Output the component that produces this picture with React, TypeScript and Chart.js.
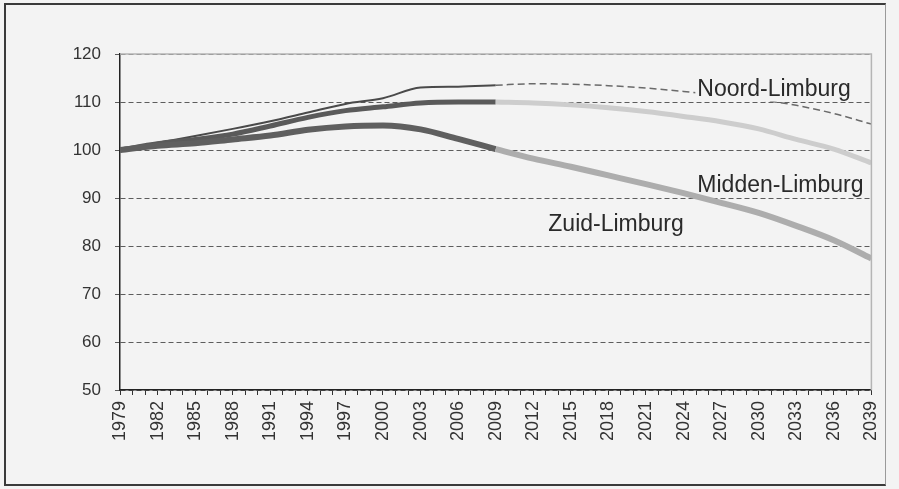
import React, { useEffect, useRef } from "react";
import { Chart, registerables } from "chart.js";

Chart.register(...registerables);

const yearsHist = [1979, 1982, 1985, 1988, 1991, 1994, 1997, 2000, 2003, 2006, 2009];
const yearsProg = [2009, 2012, 2015, 2018, 2021, 2024, 2027, 2030, 2033, 2036, 2039];

const noordHist = [100, 101.5, 102.9, 104.4, 106.0, 107.8, 109.6, 110.8, 113.0, 113.2, 113.5];
const middenHist = [100, 101.3, 102.2, 103.3, 105.0, 106.8, 108.2, 109.0, 109.8, 110.0, 110.0];
const zuidHist = [100, 100.9, 101.4, 102.2, 103.0, 104.2, 104.9, 105.1, 104.3, 102.3, 100.2];

const noordProg = [113.5, 113.8, 113.7, 113.4, 112.9, 112.2, 111.4, 110.5, 109.3, 107.6, 105.4];
const middenProg = [110.0, 109.8, 109.4, 108.8, 108.0, 107.0, 105.9, 104.4, 102.2, 100.2, 97.3];
const zuidProg = [100.2, 98.2, 96.5, 94.7, 92.9, 91.0, 89.0, 86.9, 84.2, 81.2, 77.4];

const labelNames = ["Noord-Limburg", "Midden-Limburg", "Zuid-Limburg"];
const labelYears = [2025.1, 2025.1, 2013.2];
const labelValues = [112.6, 92.6, 84.5];

const yTicks = [50, 60, 70, 80, 90, 100, 110, 120];
const xMin = 1979;
const xMax = 2039;

const pts = (xs: number[], ys: number[]) => xs.map((x, i) => ({ x, y: ys[i] }));

const FONT = "'Liberation Sans', Arial, sans-serif";
const BG = "#f3f3f3";

export default function App() {
  const ref = useRef<HTMLCanvasElement | null>(null);
  useEffect(() => {
    if (!ref.current) return;
    const frame = {
      id: "frame",
      afterDraw(chart: any) {
        const { ctx, chartArea, scales } = chart;
        ctx.save();
        ctx.strokeStyle = "#b5b5b5";
        ctx.lineWidth = 1.5;
        ctx.beginPath();
        ctx.moveTo(chartArea.left, chartArea.top);
        ctx.lineTo(chartArea.right, chartArea.top);
        ctx.lineTo(chartArea.right, chartArea.bottom);
        ctx.stroke();
        ctx.font = `23px ${FONT}`;
        ctx.textBaseline = "middle";
        ctx.textAlign = "left";
        const nx = scales.x.getPixelForValue(labelYears[0]);
        const ny = scales.y.getPixelForValue(labelValues[0]);
        const nw = ctx.measureText(labelNames[0]).width;
        ctx.fillStyle = BG;
        ctx.fillRect(nx - 2, ny - 11, nw + 4, 23);
        ctx.fillStyle = "#2a2a2a";
        labelNames.forEach((t, i) => {
          ctx.fillText(t, scales.x.getPixelForValue(labelYears[i]), scales.y.getPixelForValue(labelValues[i]));
        });
        ctx.restore();
      },
    };
    const common = { pointRadius: 0, cubicInterpolationMode: "monotone" as const, fill: false };
    const chart = new Chart(ref.current, {
      type: "line",
      data: {
        datasets: [
          { ...common, label: "Zuid prog", data: pts(yearsProg, zuidProg), borderColor: "#adadad", borderWidth: 6 },
          { ...common, label: "Midden prog", data: pts(yearsProg, middenProg), borderColor: "#cdcdcd", borderWidth: 5 },
          { ...common, label: "Noord prog", data: pts(yearsProg, noordProg), borderColor: "#6a6a6a", borderWidth: 1.5, borderDash: [7, 4] },
          { ...common, label: "Zuid", data: pts(yearsHist, zuidHist), borderColor: "#5f5f5f", borderWidth: 6 },
          { ...common, label: "Midden", data: pts(yearsHist, middenHist), borderColor: "#5a5a5a", borderWidth: 5 },
          { ...common, label: "Noord", data: pts(yearsHist, noordHist), borderColor: "#4a4a4a", borderWidth: 2 },
        ],
      },
      options: {
        animation: false,
        responsive: false,
        layout: { padding: { top: 54, right: 27, left: 0, bottom: 0 } },
        plugins: { legend: { display: false }, tooltip: { enabled: false } },
        scales: {
          x: {
            type: "linear",
            min: xMin,
            max: xMax,
            afterBuildTicks: (scale: any) => {
              const t = [];
              for (let v = xMin; v <= xMax; v++) t.push({ value: v });
              scale.ticks = t;
            },
            afterFit: (scale: any) => {
              scale.height = 99;
            },
            ticks: {
              autoSkip: false,
              maxRotation: 90,
              minRotation: 90,
              padding: 6,
              color: "#333",
              font: { family: FONT, size: 18 },
              callback: (v: any) => ((Number(v) - xMin) % 3 === 0 ? String(v) : ""),
            },
            grid: { drawOnChartArea: false, drawTicks: true, tickLength: 5, color: "#333", lineWidth: 1 },
            border: { display: true, color: "#222", width: 1.5 },
          },
          y: {
            min: 50,
            max: 120,
            afterBuildTicks: (scale: any) => {
              scale.ticks = yTicks.map((v) => ({ value: v }));
            },
            afterFit: (scale: any) => {
              scale.width = 120;
            },
            ticks: { color: "#333", padding: 14, font: { family: FONT, size: 17 } },
            grid: { color: "#5c5c5c", lineWidth: 1, tickLength: 5 },
            border: { display: true, color: "#222", width: 1.5, dash: [5, 3] },
          },
        },
      },
      plugins: [frame],
    } as any);
    return () => chart.destroy();
  }, []);
  return (
    <div style={{ position: "fixed", left: 0, top: 0, width: 899, height: 489, background: BG }}>
      <div
        style={{
          position: "absolute",
          left: 4,
          top: 3,
          width: 882,
          height: 483,
          boxSizing: "border-box",
          border: "2px solid #3a3a3a",
          borderRight: "1px solid #9a9a9a",
        }}
      />
      <canvas ref={ref} width={899} height={489} style={{ position: "absolute", left: 0, top: 0 }} />
    </div>
  );
}
